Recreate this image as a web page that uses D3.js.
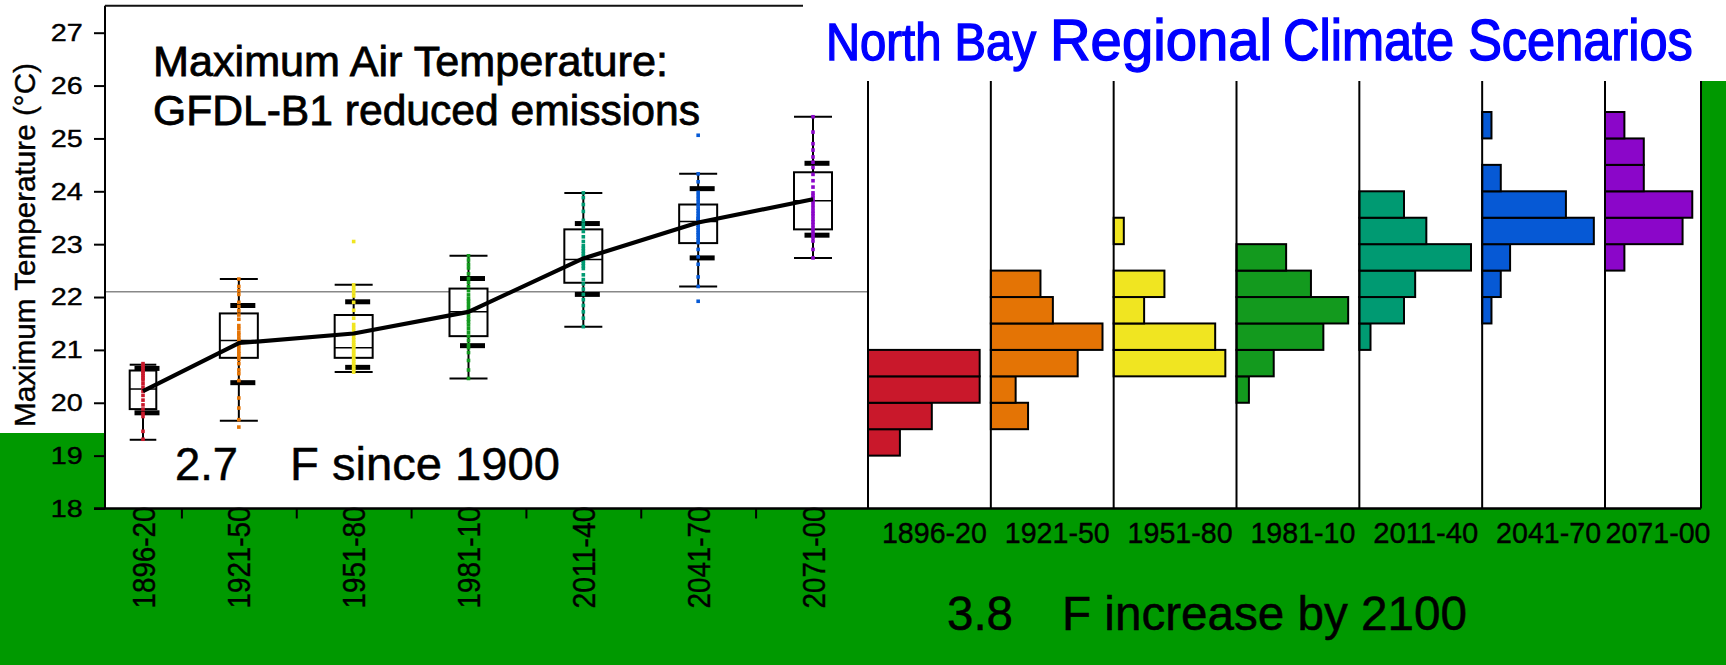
<!DOCTYPE html>
<html>
<head>
<meta charset="utf-8">
<script src="https://cdn.jsdelivr.net/npm/d3@7/dist/d3.min.js"></script>
<style>
body { margin: 0; background: #fff; }
svg { display: block; font-family: "Liberation Sans", Arial, sans-serif; }
</style>
</head>
<body>
<script>
// periods and colours
var periods = ["1896-20", "1921-50", "1951-80", "1981-10", "2011-40", "2041-70", "2071-00"];
var colors = ["#C9182B", "#E47405", "#F0E521", "#139A1E", "#009A72", "#0659D5", "#8B06C9"];

// box plot stats (deg C)
var boxMin = [19.30, 19.66, 20.58, 20.46, 21.44, 22.20, 22.74];
var p10    = [19.81, 20.38, 20.67, 21.08, 22.05, 22.74, 23.17];
var q1     = [19.88, 20.85, 20.85, 21.26, 22.27, 23.02, 23.28];
var median = [20.26, 21.18, 21.04, 21.72, 22.71, 23.43, 23.82];
var q3     = [20.61, 21.69, 21.66, 22.16, 23.28, 23.75, 24.36];
var p90    = [20.65, 21.84, 21.91, 22.35, 23.39, 24.05, 24.53];
var boxMax = [20.72, 22.34, 22.23, 22.78, 23.97, 24.33, 25.41];
var means  = [20.22, 21.13, 21.31, 21.72, 22.73, 23.41, 23.85];
var refLine = 22.1;

// yearly values (the coloured dots)
var yearly = [
  [20.74, 20.70, 20.67, 20.62, 20.59, 20.55, 20.51, 20.47, 20.43, 20.36, 20.29, 20.22, 20.14, 20.05, 19.96, 19.88, 19.80, 19.74, 19.46, 19.31],
  [19.54, 19.68, 19.90, 20.09, 20.42, 20.55, 20.62, 20.74, 20.82, 20.88, 20.93, 20.97, 21.03, 21.08, 21.12, 21.18, 21.22, 21.28, 21.33, 21.40, 21.46, 21.58, 21.66, 21.74, 21.82, 21.90, 22.05, 22.12, 22.20, 22.34],
  [20.58, 20.62, 20.66, 20.70, 20.74, 20.78, 20.82, 20.86, 20.90, 20.94, 20.98, 21.02, 21.06, 21.10, 21.14, 21.19, 21.24, 21.30, 21.36, 21.42, 21.48, 21.60, 21.75, 21.90, 22.02, 22.08, 22.13, 22.18, 22.23, 23.05],
  [20.46, 20.62, 20.80, 20.95, 21.04, 21.10, 21.18, 21.26, 21.33, 21.40, 21.47, 21.53, 21.58, 21.64, 21.70, 21.74, 21.80, 21.86, 21.92, 21.97, 22.04, 22.12, 22.20, 22.28, 22.35, 22.44, 22.55, 22.62, 22.70, 22.78],
  [21.44, 21.60, 21.72, 21.84, 21.95, 22.05, 22.15, 22.25, 22.33, 22.42, 22.54, 22.59, 22.64, 22.68, 22.72, 22.77, 22.82, 22.87, 22.92, 22.97, 23.05, 23.14, 23.24, 23.32, 23.38, 23.45, 23.62, 23.75, 23.88, 23.97],
  [21.92, 22.20, 22.38, 22.62, 22.76, 22.90, 23.03, 23.08, 23.13, 23.18, 23.22, 23.27, 23.31, 23.36, 23.40, 23.44, 23.47, 23.49, 23.53, 23.58, 23.63, 23.68, 23.74, 23.80, 23.86, 23.92, 23.98, 24.18, 24.33, 25.06],
  [22.74, 22.90, 23.06, 23.13, 23.19, 23.25, 23.31, 23.37, 23.42, 23.47, 23.53, 23.58, 23.63, 23.69, 23.75, 23.81, 23.87, 23.92, 23.97, 24.08, 24.20, 24.32, 24.45, 24.55, 24.65, 24.78, 24.90, 25.12, 25.41]
];

// histogram: lower edge of each 0.5 deg bin, and counts per period
var binLows = [19, 19.5, 20, 20.5, 21, 21.5, 22, 22.5, 23, 23.5, 24, 24.5, 25];
var binCounts = [
  [2, 4, 7, 7, 0, 0, 0, 0, 0, 0, 0, 0, 0],
  [0, 3, 2, 7, 9, 5, 4, 0, 0, 0, 0, 0, 0],
  [0, 0, 0, 11, 10, 3, 5, 0, 1, 0, 0, 0, 0],
  [0, 0, 1, 3, 7, 9, 6, 4, 0, 0, 0, 0, 0],
  [0, 0, 0, 0, 1, 4, 5, 10, 6, 4, 0, 0, 0],
  [0, 0, 0, 0, 0, 1, 2, 3, 12, 9, 2, 0, 1],
  [0, 0, 0, 0, 0, 0, 0, 2, 8, 9, 4, 4, 2]
];
var yTicks = [18, 19, 20, 21, 22, 23, 24, 25, 26, 27];

var width = 1726, height = 665;
var x0 = 105, frameTop = 5.7, frameRight = 1701, panelTop = 81;

var svg = d3.select("body").append("svg")
    .attr("width", width)
    .attr("height", height);

var y = d3.scaleLinear().domain([18, 27]).range([508.5, 32.7]);
var yBottom = y(18);

// green backdrop with white panels
svg.append("rect").attr("width", width).attr("height", height).attr("fill", "#009900");
svg.append("rect").attr("width", width).attr("height", panelTop).attr("fill", "#fff");
svg.append("rect").attr("width", x0).attr("height", 433).attr("fill", "#fff");
svg.append("rect").attr("x", x0).attr("width", frameRight - x0).attr("height", yBottom).attr("fill", "#fff");

// ---- left: box plots ----
var xIdx = d3.scaleLinear().domain([0, 6]).range([124, 813]);
function cx(i) { return Math.max(xIdx(i), x0 + 38); }
function bw(i) { return Math.min(38, (cx(i) - x0) * 0.7); }

var yAxis = d3.axisLeft(y).tickValues(yTicks).tickSize(11).tickPadding(11.3);
var yg = svg.append("g").attr("transform", "translate(" + x0 + ",0)").call(yAxis);
yg.select(".domain").remove();
yg.selectAll("line").attr("stroke", "#000").attr("stroke-width", 2);
yg.selectAll("text")
    .attr("font-size", 24.5)
    .attr("font-family", "Liberation Sans, Arial, sans-serif")
    .attr("fill", "#000")
    .attr("stroke", "#000").attr("stroke-width", 0.4)
    .attr("textLength", 32)
    .attr("lengthAdjust", "spacingAndGlyphs");

var xAxis = d3.axisBottom(xIdx)
    .tickValues(periods.slice(1).map(function(d, i) { return i + 0.5; }))
    .tickSize(10).tickFormat("");
var xg = svg.append("g").attr("transform", "translate(0," + yBottom + ")").call(xAxis);
xg.select(".domain").remove();
xg.selectAll("line").attr("stroke", "#000").attr("stroke-width", 2);

svg.append("text")
    .attr("transform", "translate(35,245) rotate(-90)")
    .attr("text-anchor", "middle")
    .attr("font-size", 29.5)
    .attr("stroke", "#000").attr("stroke-width", 0.4)
    .attr("textLength", 364)
    .attr("lengthAdjust", "spacingAndGlyphs")
    .text("Maximum Temperature (\u00B0C)");

svg.selectAll(".xlab").data(periods).enter().append("text")
    .attr("class", "xlab")
    .attr("transform", function(d, i) { return "translate(" + (cx(i) + 11.5) + "," + (yBottom - 2) + ") rotate(-90)"; })
    .attr("text-anchor", "end")
    .attr("font-size", 32)
    .attr("stroke", "#000").attr("stroke-width", 0.4)
    .attr("textLength", 102)
    .attr("lengthAdjust", "spacingAndGlyphs")
    .text(function(d) { return d; });

// reference line
svg.append("line")
    .attr("x1", x0).attr("x2", 868)
    .attr("y1", y(refLine)).attr("y2", y(refLine))
    .attr("stroke", "#888").attr("stroke-width", 1.5);

var boxes = svg.selectAll(".box").data(periods).enter().append("g").attr("class", "box");

boxes.append("line")
    .attr("x1", function(d, i) { return cx(i); }).attr("x2", function(d, i) { return cx(i); })
    .attr("y1", function(d, i) { return y(boxMin[i]); }).attr("y2", function(d, i) { return y(boxMax[i]); })
    .attr("stroke", "#000").attr("stroke-width", 2);

boxes.append("rect")
    .attr("x", function(d, i) { return cx(i) - bw(i) / 2; })
    .attr("width", function(d, i) { return bw(i); })
    .attr("y", function(d, i) { return y(q3[i]); })
    .attr("height", function(d, i) { return y(q1[i]) - y(q3[i]); })
    .attr("fill", "#fff").attr("stroke", "#000").attr("stroke-width", 2);

[median, boxMin, boxMax].forEach(function(arr, k) {
  boxes.append("line")
      .attr("x1", function(d, i) { return cx(i) - bw(i) / 2; })
      .attr("x2", function(d, i) { return cx(i) + bw(i) / 2; })
      .attr("y1", function(d, i) { return y(arr[i]); })
      .attr("y2", function(d, i) { return y(arr[i]); })
      .attr("stroke", "#000").attr("stroke-width", k === 0 ? 1.5 : 2);
});

[p10, p90].forEach(function(arr) {
  boxes.append("line")
      .attr("x1", function(d, i) { return cx(i) + 4 - 12.5; })
      .attr("x2", function(d, i) { return cx(i) + 4 + 12.5; })
      .attr("y1", function(d, i) { return y(arr[i]); })
      .attr("y2", function(d, i) { return y(arr[i]); })
      .attr("stroke", "#000").attr("stroke-width", 5);
});

boxes.each(function(d, i) {
  d3.select(this).selectAll("rect.dot").data(yearly[i]).enter().append("rect")
      .attr("class", "dot")
      .attr("x", cx(i) - 1.8).attr("width", 3.6)
      .attr("y", function(v) { return y(v) - 1.8; }).attr("height", 3.6)
      .attr("fill", colors[i]);
});

var meanLine = d3.line()
    .x(function(d, i) { return cx(i); })
    .y(function(d) { return y(d); });
svg.append("path").attr("d", meanLine(means))
    .attr("fill", "none").attr("stroke", "#000").attr("stroke-width", 4.2)
    .attr("stroke-linejoin", "round");

// frame
svg.append("line").attr("x1", x0).attr("x2", x0).attr("y1", frameTop).attr("y2", yBottom)
    .attr("stroke", "#000").attr("stroke-width", 2);
svg.append("line").attr("x1", x0).attr("x2", 803).attr("y1", frameTop).attr("y2", frameTop)
    .attr("stroke", "#111").attr("stroke-width", 2);

// ---- right: histograms ----
var panelX = d3.scaleLinear().domain([0, 6]).range([868, 1605]);
var step = panelX(1) - panelX(0);
function pw(i) { return Math.min(step, frameRight - panelX(i)); }

periods.forEach(function(p, i) {
  var cs = d3.scaleLinear().domain([0, 1.1 * d3.max(binCounts[i])]).range([0, pw(i)]);
  var g = svg.append("g");
  g.selectAll("rect").data(binLows.map(function(b, k) { return { lo: b, n: binCounts[i][k] }; })
      .filter(function(d) { return d.n > 0; }))
    .enter().append("rect")
      .attr("x", panelX(i))
      .attr("y", function(d) { return y(d.lo + 0.5); })
      .attr("width", function(d) { return cs(d.n); })
      .attr("height", function(d) { return y(d.lo) - y(d.lo + 0.5); })
      .attr("fill", colors[i]).attr("stroke", "#000").attr("stroke-width", 2);
  g.append("line")
      .attr("x1", panelX(i)).attr("x2", panelX(i))
      .attr("y1", panelTop).attr("y2", yBottom)
      .attr("stroke", "#000").attr("stroke-width", 2);
  svg.append("text")
      .attr("x", panelX(i) + pw(i) / 2 + 5)
      .attr("y", 543)
      .attr("text-anchor", "middle")
      .attr("font-size", 30)
      .attr("stroke", "#000").attr("stroke-width", 0.4)
      .attr("textLength", 105)
      .attr("lengthAdjust", "spacingAndGlyphs")
      .text(p);
});

svg.append("line").attr("x1", frameRight).attr("x2", frameRight).attr("y1", panelTop).attr("y2", yBottom)
    .attr("stroke", "#000").attr("stroke-width", 2);
svg.append("line").attr("x1", x0 - 11).attr("x2", frameRight).attr("y1", yBottom).attr("y2", yBottom)
    .attr("stroke", "#000").attr("stroke-width", 2.5);

// ---- texts ----
function label(x, yy, size, txt, len, col, sw) {
  var c = col || "#000";
  var t = svg.append("text").attr("x", x).attr("y", yy)
      .attr("font-size", size).attr("fill", c)
      .attr("stroke", c).attr("stroke-width", sw || 0.8)
      .text(txt);
  if (len) t.attr("textLength", len).attr("lengthAdjust", "spacingAndGlyphs");
  return t;
}
label(153, 76, 42.5, "Maximum Air Temperature:", 515);
label(153, 125, 42.5, "GFDL-B1 reduced emissions", 547);
label(175, 480, 47, "2.7", 63, null, 0.5);
label(290, 480, 47, "F since 1900", 270, null, 0.5);
label(947, 630, 48, "3.8", 66, null, 0.5);
label(1062, 630, 48, "F increase by 2100", 405, null, 0.5);
label(826, 60, 51, "North Bay", 210, "#0000FF", 1.4);
label(1050, 60, 57, "Regional", 222, "#0000FF", 1.4);
// narrower glyphs here: natural width at 50.5px, stretched vertically to match
label(0, 0, 50.5, "Climate Scenarios", null, "#0000FF", 1.3)
    .attr("transform", "translate(1283,60) scale(1,1.13)");
</script>
</body>
</html>
